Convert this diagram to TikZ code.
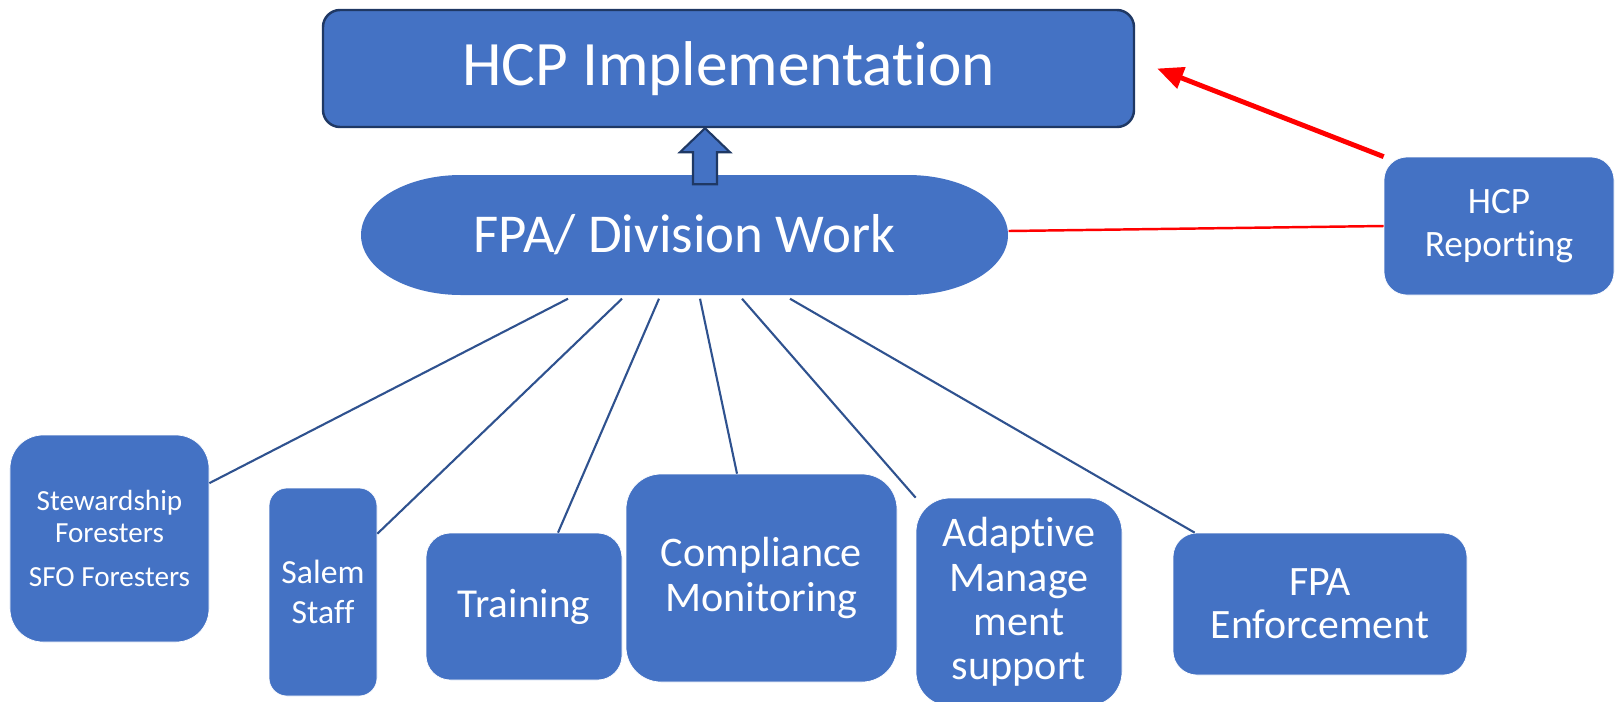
\documentclass[tikz,border=0pt]{standalone}
\usepackage{fontspec}
\setmainfont{Carlito}[RawFeature={-liga;-clig;-calt;-dlig}]
\usetikzlibrary{arrows.meta}
\usetikzlibrary{calc}
\definecolor{boxblue}{HTML}{4472C4}
\definecolor{edgeblue}{HTML}{2F528F}
\definecolor{darkrim}{HTML}{1F3864}
\tikzstyle{box}=[fill=boxblue,draw=white,very thin,text=white,align=center,inner sep=0pt]
\tikzstyle{wire}=[line width=0.6pt,edgeblue]
\tikzstyle{redlink}=[line width=0.7pt,red]
\tikzstyle{redarrow}=[-{Triangle[length=0.26cm,width=0.22cm]},line width=1.4pt,red]
\newcommand{\setfs}[2]{\fontsize{#1}{#2}\selectfont}

\begin{document}
\begin{tikzpicture}
  \useasboundingbox (0,0) rectangle (16.16,-7.01);

  % TOP BOX
  \node[box,draw=darkrim,line width=0.7pt,rounded corners=0.17cm,font=\setfs{18}{21},
        minimum width=8.11cm,minimum height=1.17cm] (hcp) at (7.285,-0.685)
        {HCP Implementation};

  % FPA / DIVISION
  \fill[boxblue] (4.61,-1.75) -- (9.08,-1.75)
     arc[start angle=90,end angle=-90,x radius=1.0,y radius=0.6] -- (4.61,-2.95)
     arc[start angle=270,end angle=90,x radius=1.0,y radius=0.6] -- cycle;
  \node[text=white,inner sep=0pt,font=\setfs{15.6}{18},
        minimum width=6.47cm,minimum height=1.2cm] (fpa)
        at (6.845,-2.35) {FPA/ Division Work};

  % BLOCK ARROW
  \draw[fill=boxblue,draw=darkrim,line width=0.6pt] ([xshift=-0.235cm]hcp.south)
     --++ (0.25,-0.24) --++ (-0.13,0) --++ (0,-0.32) --++ (-0.24,0)
     --++ (0,0.32) --++ (-0.13,0) -- cycle;

  % REPORTING
  \node[box,rounded corners=0.23cm,font=\setfs{10.6}{12.3},
        minimum width=2.30cm,minimum height=1.38cm] (report)
        at (14.99,-2.26) {HCP\\Reporting};
  \draw[redlink] ([yshift=0.04cm]fpa.east) -- (report.west);
  \draw[redarrow] (report.north west) -- ([xshift=0.22cm]hcp.east);

  % LOWER BOXES
  \node[box,rounded corners=0.33cm,font=\setfs{8.3}{9.1},
        minimum width=1.99cm,minimum height=2.07cm] (stew)
        at (1.095,-5.385) {Stewardship\\Foresters\\[3.4pt]SFO Foresters};
  \node[box,rounded corners=0.18cm,font=\setfs{9.6}{11.4},
        minimum width=1.08cm,minimum height=2.08cm] (salem)
        at (3.23,-5.92) {Salem\\Staff};
  \node[box,rounded corners=0.245cm,font=\setfs{11.7}{13},
        minimum width=1.96cm,minimum height=1.47cm] (train)
        at (5.24,-6.065) {Training};
  \node[box,rounded corners=0.35cm,font=\setfs{12}{12.9},
        minimum width=2.71cm,minimum height=2.08cm] (comp)
        at (7.615,-5.78) {Compliance\\Monitoring};
  \node[box,rounded corners=0.34cm,font=\setfs{12}{12.6},
        minimum width=2.06cm,minimum height=2.08cm] (adapt)
        at (10.19,-6.02) {Adaptive\\Manage\\ment\\support};
  \node[box,rounded corners=0.24cm,font=\setfs{11.9}{12.3},
        minimum width=2.94cm,minimum height=1.42cm] (enforce)
        at (13.2,-6.04) {FPA\\Enforcement};

  % CONNECTORS
  \draw[wire] ([xshift=-1.165cm,yshift=-0.03cm]fpa.south) -- (stew.29);
  \draw[wire] ([xshift=-0.625cm,yshift=-0.03cm]fpa.south) -- (salem.47);
  \draw[wire] ([xshift=-0.255cm,yshift=-0.03cm]fpa.south) -- ([xshift=0.34cm]train.north);
  \draw[wire] ([xshift=0.155cm,yshift=-0.03cm]fpa.south) -- ([xshift=-0.245cm]comp.north);
  \draw[wire] ([xshift=0.575cm,yshift=-0.03cm]fpa.south) -- (adapt.north west);
  \draw[wire] ([xshift=1.055cm,yshift=-0.03cm]fpa.south) -- ([xshift=0.22cm]enforce.north west);

\end{tikzpicture}
\end{document}
